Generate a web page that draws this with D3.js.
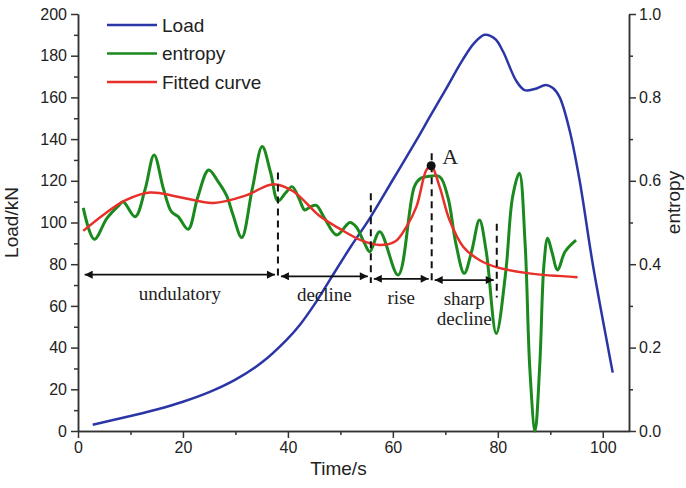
<!DOCTYPE html>
<html>
<head>
<meta charset="utf-8">
<script src="https://cdn.jsdelivr.net/npm/d3@7"></script>
<style>
  body { margin: 0; background: #fff; }
  .tick text { font-family: "Liberation Sans", Arial, sans-serif; font-size: 16px; fill: #222; }
  .axis path, .axis line { stroke: #333; stroke-width: 1.5px; }
  .serif { font-family: "Liberation Serif", "Times New Roman", serif; fill: #222; }
</style>
</head>
<body>
<div class="container"></div>
<script>
// load curve (time s, kN)
var loadData = [[2.8,3],[10,7.2],[15,10.3],[20,14],[25,18.6],[30,24.6],[35,32.8],[39.7,43.6],[42.3,51],[45,60.5],[48,72.5],[52,88.5],
  [55.6,102],[60,120.5],[64.5,139.5],[67,150.5],[70,163.5],[73.3,178],[75.5,186],[77.5,190],[79.5,188],[81,182],
  [83.5,168],[85.1,163.5],[87,164],[89.2,166],[90.5,164.5],[91.8,160],[93.7,144],[95.6,120],[98.1,80],
  [101,40],[101.9,28]];

// entropy (time s, entropy)
var entropyData = [[1,0.535],[3.1,0.46],[5.5,0.51],[7.7,0.54],[8.6,0.55],[10.9,0.514],[12.8,0.58],[14.5,0.662],
  [16.3,0.58],[17.8,0.526],[19.1,0.514],[21,0.484],[22.8,0.56],[24.9,0.626],[26.6,0.6],[28.3,0.565],
  [29.5,0.52],[31.2,0.464],[33.2,0.58],[35.1,0.682],[36.7,0.62],[38.1,0.552],[39.5,0.57],[40.8,0.586],
  [42.2,0.555],[43.2,0.53],[44.2,0.537],[45.4,0.541],[47,0.51],[49.3,0.47],[51.8,0.5],[53,0.49],
  [54.6,0.45],[55.6,0.43],[57.5,0.478],[61,0.374],[64.1,0.586],[65.3,0.606],[66.5,0.61],[68.9,0.61],
  [70.5,0.56],[72,0.45],[73.6,0.378],[75,0.43],[76.5,0.506],[77.8,0.43],[79.7,0.234],[81.5,0.38],
  [82.8,0.56],[84.1,0.618],[85.2,0.45],[86.1,0.15],[87.1,0.0],[88,0.16],[88.8,0.4],[89.5,0.462],
  [90.3,0.43],[91.4,0.386],[92.8,0.43],[94.9,0.458]];

// fitted curve (time s, entropy)
var fittedData = [[1,0.48],[5,0.52],[9,0.553],[13.7,0.572],[19,0.562],[25.8,0.547],[32,0.565],[37.2,0.592],
  [41,0.575],[46,0.516],[50,0.484],[54,0.457],[57.5,0.446],[60.5,0.455],[62.6,0.49],[64.5,0.538],
  [66.4,0.626],[67.3,0.636],[68.9,0.586],[70.8,0.506],[73.4,0.442],[76.5,0.41],[79.7,0.393],[86,0.378],
  [95.2,0.369]];

// stage boundaries (time s) and arrow rows (entropy)
var stageLines = [{t:38.1, e0:0.62, e1:0.365}, {t:55.8, e0:0.57, e1:0.355}, {t:67.4, e0:0.666, e1:0.355}, {t:79.8, e0:0.497, e1:0.32}];
var stages = [
  {name:["undulatory"], t0:0.7, t1:38.1, e:0.375},
  {name:["decline"], t0:38.1, t1:55.8, e:0.371},
  {name:["rise"], t0:55.8, t1:67.4, e:0.365},
  {name:["sharp","decline"], t0:67.4, t1:79.8, e:0.362}
];
var pointA = [67.3, 0.636];

var loadTicks = d3.range(0, 201, 20), loadMinor = d3.range(10, 200, 20);
var timeTicks = d3.range(0, 101, 20), timeMinor = d3.range(10, 101, 20);
var entTicks = [0, 0.2, 0.4, 0.6, 0.8, 1.0], entMinor = [0.1, 0.3, 0.5, 0.7, 0.9];

var margin = {top: 14, right: 57, bottom: 57, left: 78},
    width = 686 - margin.left - margin.right,
    height = 488 - margin.top - margin.bottom;

var svg = d3.select(".container").append("svg")
    .attr("width", 686).attr("height", 488)
  .append("g")
    .attr("transform", "translate(" + margin.left + "," + margin.top + ")");

var x = d3.scaleLinear().domain([0, 105]).range([0, width]);
var yL = d3.scaleLinear().domain([0, 200]).range([height, 0]);
var yE = d3.scaleLinear().domain([0, 1]).range([height, 0]);

// axes
svg.append("g").attr("class", "axis").attr("transform", "translate(0," + height + ")")
  .call(d3.axisBottom(x).tickValues(timeTicks).tickSize(7).tickPadding(4).tickSizeOuter(0));
svg.append("g").attr("class", "axis").attr("transform", "translate(0," + height + ")")
  .call(d3.axisBottom(x).tickValues(timeMinor).tickSize(4).tickFormat("").tickSizeOuter(0));
svg.append("g").attr("class", "axis")
  .call(d3.axisLeft(yL).tickValues(loadTicks).tickSize(7).tickPadding(4).tickSizeOuter(0));
svg.append("g").attr("class", "axis")
  .call(d3.axisLeft(yL).tickValues(loadMinor).tickSize(4).tickFormat("").tickSizeOuter(0));
svg.append("g").attr("class", "axis").attr("transform", "translate(" + width + ",0)")
  .call(d3.axisRight(yE).tickValues(entTicks).tickSize(7).tickPadding(3).tickFormat(d3.format(".1f")).tickSizeOuter(0));
svg.append("g").attr("class", "axis").attr("transform", "translate(" + width + ",0)")
  .call(d3.axisRight(yE).tickValues(entMinor).tickSize(4).tickFormat("").tickSizeOuter(0));

// axis titles
svg.append("text")
  .attr("transform", "translate(-60," + (height / 2) + ")rotate(-90)")
  .attr("text-anchor", "middle")
  .style("font-family", "Liberation Sans, Arial, sans-serif").style("font-size", "19px").style("fill", "#222")
  .text("Load/kN");
svg.append("text")
  .attr("x", width / 2 - 15).attr("y", height + 44)
  .attr("text-anchor", "middle")
  .style("font-family", "Liberation Sans, Arial, sans-serif").style("font-size", "19px").style("fill", "#222")
  .text("Time/s");
svg.append("text")
  .attr("transform", "translate(" + (width + 51) + "," + (height / 2 - 20) + ")rotate(-90)")
  .attr("text-anchor", "middle")
  .style("font-family", "Liberation Sans, Arial, sans-serif").style("font-size", "19px").style("fill", "#222")
  .text("entropy");

// lines
var loadLine = d3.line().x(d => x(d[0])).y(d => yL(d[1])).curve(d3.curveCatmullRom.alpha(0.5));
var entLine = d3.line().x(d => x(d[0])).y(d => yE(d[1])).curve(d3.curveCatmullRom.alpha(0.5));

svg.append("path").datum(loadData).attr("d", loadLine)
  .attr("fill", "none").attr("stroke", "#2b36a6").attr("stroke-width", 2.5);
svg.append("path").datum(entropyData).attr("d", entLine)
  .attr("fill", "none").attr("stroke", "#1b8a1e").attr("stroke-width", 3);
svg.append("path").datum(fittedData).attr("d", entLine)
  .attr("fill", "none").attr("stroke", "#e8302b").attr("stroke-width", 2.5);

// dashed stage lines
svg.selectAll(".stage-line").data(stageLines).enter().append("line")
  .attr("x1", d => x(d.t)).attr("x2", d => x(d.t))
  .attr("y1", d => yE(d.e0)).attr("y2", d => yE(d.e1))
  .attr("stroke", "#111").attr("stroke-width", 2).attr("stroke-dasharray", "7,5");

// arrows
var defs = svg.append("defs");
defs.append("marker").attr("id", "arrowEnd").attr("viewBox", "0 0 10 10")
  .attr("refX", 10).attr("refY", 5).attr("markerWidth", 10).attr("markerHeight", 8)
  .attr("markerUnits", "userSpaceOnUse").attr("orient", "auto")
  .append("path").attr("d", "M0,0L10,5L0,10Z").attr("fill", "#111");
defs.append("marker").attr("id", "arrowStart").attr("viewBox", "0 0 10 10")
  .attr("refX", 0).attr("refY", 5).attr("markerWidth", 10).attr("markerHeight", 8)
  .attr("markerUnits", "userSpaceOnUse").attr("orient", "auto")
  .append("path").attr("d", "M10,0L0,5L10,10Z").attr("fill", "#111");

svg.selectAll(".stage-arrow").data(stages).enter().append("line")
  .attr("x1", d => x(d.t0) + 3).attr("x2", d => x(d.t1) - 3)
  .attr("y1", d => yE(d.e)).attr("y2", d => yE(d.e))
  .attr("stroke", "#111").attr("stroke-width", 1.8)
  .attr("marker-start", "url(#arrowStart)").attr("marker-end", "url(#arrowEnd)");

var labels = svg.selectAll(".stage-label").data(stages).enter().append("text")
  .attr("class", "serif")
  .attr("text-anchor", "middle")
  .style("font-size", "19px")
  .attr("x", d => x((d.t0 + d.t1) / 2))
  .attr("y", d => yE(d.e) + 25);
labels.selectAll("tspan").data(d => d.name).enter().append("tspan")
  .attr("x", function() { return d3.select(this.parentNode).attr("x"); })
  .attr("dy", (d, i) => i === 0 ? 0 : 20)
  .text(d => d);

// point A
svg.append("circle").attr("cx", x(pointA[0])).attr("cy", yE(pointA[1])).attr("r", 4.5).attr("fill", "#111");
svg.append("text").attr("class", "serif")
  .attr("x", x(pointA[0]) + 11).attr("y", yE(pointA[1]) - 2)
  .style("font-size", "22px").text("A");

// legend
var legend = [{name:"Load", color:"#2b36a6"}, {name:"entropy", color:"#1b8a1e"}, {name:"Fitted curve", color:"#e8302b"}];
var lg = svg.selectAll(".legend").data(legend).enter().append("g")
  .attr("transform", (d, i) => "translate(29," + (11 + i * 28.5) + ")");
lg.append("line").attr("x1", 0).attr("x2", 50).attr("y1", 0).attr("y2", 0)
  .attr("stroke", d => d.color).attr("stroke-width", 2.5);
lg.append("text").attr("x", 55).attr("y", 6.5)
  .style("font-family", "Liberation Sans, Arial, sans-serif").style("font-size", "19px").style("fill", "#222")
  .text(d => d.name);
</script>
</body>
</html>
